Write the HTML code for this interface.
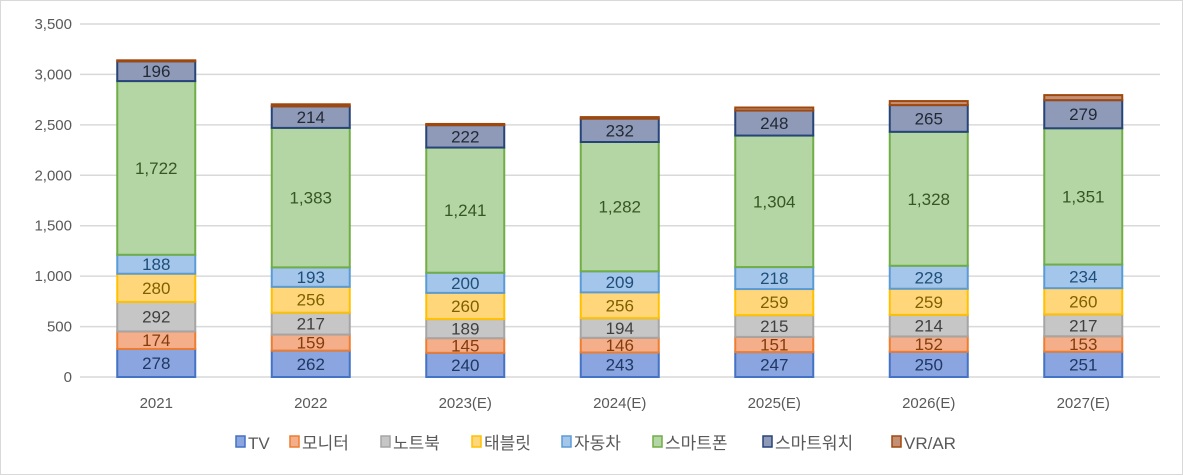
<!DOCTYPE html>
<html><head><meta charset="utf-8"><style>
body{margin:0;background:#fff;}
svg{display:block;font-family:"Liberation Sans","Noto Sans CJK KR",sans-serif;}
</style></head><body>
<svg id="chart" width="1183" height="475">
<rect x="0.5" y="0.5" width="1182" height="474" fill="#fff" stroke="#d9d9d9"/>
<g id="grid"></g><g id="bars"></g><g id="axes"></g><g id="legend"></g>
</svg>
<script>
const categories=["2021","2022","2023(E)","2024(E)","2025(E)","2026(E)","2027(E)"];
const seriesNames=["TV","모니터","노트북","태블릿","자동차","스마트폰","스마트워치","VR/AR"];
const tv=[278,262,240,243,247,250,251];
const monitor=[174,159,145,146,151,152,153];
const notebook=[292,217,189,194,215,214,217];
const tablet=[280,256,260,256,259,259,260];
const auto=[188,193,200,209,218,228,234];
const phone=[1722,1383,1241,1282,1304,1328,1351];
const watch=[196,214,222,232,248,265,279];
const vrar=[10,20,12,15,30,40,50];
const yTicks=[0,500,1000,1500,2000,2500,3000,3500];
const series=[tv,monitor,notebook,tablet,auto,phone,watch,vrar];
const fills=["#8aa5df","#f5ae8a","#c6c6c6","#ffd77a","#a3c6ea","#b4d6a4","#8f9ab9","#c48f73"];
const strokes=["#4472c4","#ed7d31","#a5a5a5","#ffc000","#5b9bd5","#70ad47","#264478","#9e480e"];
const labelCols=["#1f3864","#843c0c","#404040","#7f6000","#1f4e79","#375623","#222a35",null];
const NS="http://www.w3.org/2000/svg";
const x0=79,x1=1160,yBase=377,yTop=24,yMax=3500;
const y=v=>yBase-(v/yMax)*(yBase-yTop);
const band=154.5;
const xc=i=>x0+band*(i+0.5);
const bw=78;
function mk(t,a,p){const e=document.createElementNS(NS,t);for(const k in a)e.setAttribute(k,a[k]);p.appendChild(e);return e;}
const grid=document.getElementById('grid'),bars=document.getElementById('bars'),axes=document.getElementById('axes'),legend=document.getElementById('legend');
yTicks.forEach(t=>{
 const l=mk('line',{x1:80,x2:x1,y1:y(t),y2:y(t),stroke:'#d9d9d9','stroke-width':1.5},grid);
 
 
 const tx=mk('text',{x:72,y:y(t)+5,'text-anchor':'end','font-size':15,fill:'#595959'},axes);
 tx.textContent=t.toLocaleString('en-US');
 
 
});
categories.forEach((c,i)=>{
 let cum=0;
 series.forEach((s,k)=>{
  const v=s[i];
  const r=mk('rect',{x:xc(i)-bw/2,y:y(cum+v),width:bw,height:y(cum)-y(cum+v),fill:fills[k],stroke:strokes[k],'stroke-width':2},bars);
  
  
  if(labelCols[k]){
   const t=mk('text',{x:xc(i),y:(y(cum)+y(cum+v))/2+6,'text-anchor':'middle','font-size':17,fill:labelCols[k]},bars);
   t.textContent=v.toLocaleString('en-US');
   
   
  }
  cum+=v;
 });
 const t=mk('text',{x:xc(i),y:408,'text-anchor':'middle','font-size':15,fill:'#595959'},axes);
 t.textContent=c;
 
 
});
const lx=[236,290,381,472,562,653,763,892];
seriesNames.forEach((n,k)=>{
 const g=mk('g',{},legend);
 
 
 mk('rect',{x:lx[k],y:436,width:9,height:11,fill:fills[k],stroke:strokes[k],'stroke-width':1.5},g);
 const t=mk('text',{x:lx[k]+12,y:449,'font-size':17,fill:'#595959'},g);
 t.textContent=n;
});
</script>
</body></html>
